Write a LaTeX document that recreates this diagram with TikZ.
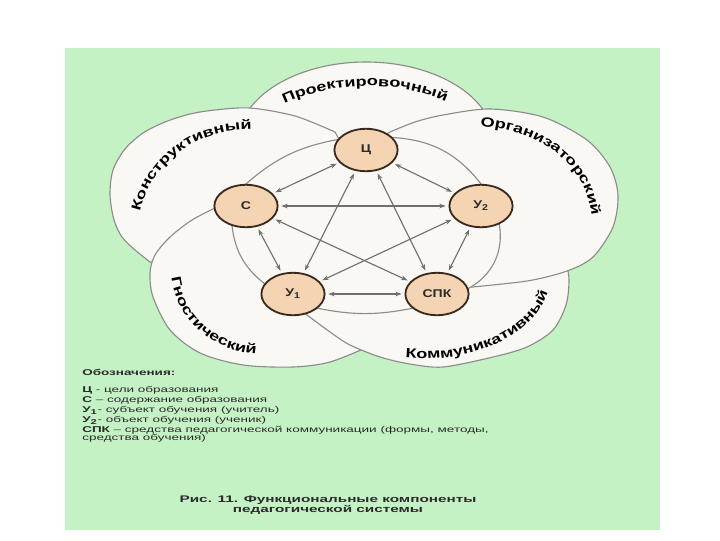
\documentclass[tikz,border=0pt]{standalone}
\usepackage{fontspec}
\setmainfont{Liberation Sans}
\newfontfamily\petalfont[FakeStretch=1.25]{Liberation Sans}
\newfontfamily\ringfont[FakeStretch=1.35]{Liberation Sans}
\newfontfamily\legendfont[FakeStretch=1.6]{Liberation Sans}
\definecolor{Bgcol}{HTML}{C4F2C4}
\definecolor{Petalcol}{HTML}{FAF8F5}
\definecolor{Edgecol}{HTML}{8C8C8C}
\definecolor{Nodecol}{HTML}{F5D4B4}
\definecolor{Rimcol}{HTML}{3A2A1E}
\definecolor{Linkcol}{HTML}{6F6F6F}
\definecolor{Textcol}{HTML}{2A2A2A}
\usetikzlibrary{shapes.geometric, arrows.meta, decorations.text, backgrounds}
\tikzset{
    >={Stealth[length=4.5pt, width=3.2pt]},
    petal/.style={fill=Petalcol, draw=Edgecol, line width=0.8pt},
    comp/.style={ellipse, fill=Nodecol, draw=Rimcol, line width=1.3pt,
        minimum width=1.58cm, minimum height=1.06cm, inner sep=0pt,
        font=\petalfont\bfseries\fontsize{8}{9}\selectfont, text=Textcol},
    link/.style={<->, draw=Linkcol, line width=0.8pt, shorten <=2pt, shorten >=2pt},
    petaltext/.style={decorate, decoration={text along path,
        text={|\ringfont\bfseries\fontsize{9.5}{11}\selectfont|#1},
        text align=center}}
}

\begin{document}
\begin{tikzpicture}[x=0.025cm, y=-0.025cm]
    \useasboundingbox (0,0) rectangle (720,540);

    % Components
    \node[comp] (c) at (366,150) {Ц};
    \node[comp] (s) at (246,206) {С};
    \node[comp] (u2) at (481,206) {У\textsubscript{2}};
    \node[comp] (u1) at (293,294) {У\textsubscript{1}};
    \node[comp] (spk) at (437,294) {СПК};

    \begin{scope}[on background layer]
        % Background
        \fill[white] (0,0) rectangle (720,540);
        \fill[Bgcol] (65,48) rectangle (660,530);

        % Petals
        \filldraw[petal] (366,142) ellipse [x radius=128, y radius=80];
        \filldraw[petal] plot[smooth] coordinates {(150,262) (135,250) (122,237) (114,220) (110,195)
            (113,170) (125,149) (143,133) (165,122) (190,114) (215,110) (250,108) (295,116) (335,132)}
            -- (345,150) -- (300,210) -- (200,250) -- (170,262) -- cycle;
        \filldraw[petal] plot[smooth] coordinates {(217,207) (192,220) (170,237) (155,255) (150,273)
            (153,297) (170,330) (200,353) (243,365) (293,367) (330,362) (370,346)}
            -- (390,320) -- (320,300) -- (262,250) -- (235,210) -- cycle;
        \filldraw[petal] plot[smooth] coordinates {(303,312) (330,332) (350,345) (380,357) (410,364)
            (443,367) (493,357) (527,347) (553,330) (566,305) (569,280) (566,262)}
            -- (540,250) -- (470,260) -- (420,305) -- (330,300) -- cycle;
        \filldraw[petal] plot[smooth] coordinates {(390,132) (415,122) (443,115) (490,109) (543,117)
            (587,140) (610,167) (618,195) (613,227) (593,257) (567,271) (527,281) (462,288)}
            -- (450,282) -- (440,230) -- (385,152) -- (380,138) -- cycle;

        % Inner ring
        \filldraw[petal] (s.north) to[bend left=15] (c.160) -- (c.25) to[bend left=24] (u2.north)
            -- (u2.-45) to[bend left=35] (spk.10) -- (spk.210) to[bend left=11] (u1.-30)
            -- (u1.160) to[bend left=22] (s.235) -- cycle;
    \end{scope}

    % Petal labels
    \path[petaltext=Проектировочный] (266,114) .. controls (320,78) and (412,76) .. (464,112);
    \path[petaltext=Конструктивный] (139,216) .. controls (150,160) and (200,127) .. (256,130);
    \path[petaltext=Организаторский] (476,126) .. controls (540,128) and (588,165) .. (592,220);
    \path[petaltext=Гностический] (171,274) .. controls (175,320) and (212,352) .. (260,354);
    \path[petaltext=Коммуникативный] (392,356) .. controls (460,368) and (542,340) .. (551,279);

    % Links
    \foreach \a/\b in {s/c, c/u2, u2/spk, spk/u1, u1/s, s/u2, s/spk, c/u1, c/spk, u1/u2}
        \draw[link] (\a) -- (\b);

    % Legend
    \node[anchor=north west, inner sep=0pt, align=left, text=Textcol,
        font=\legendfont\fontsize{6}{7.1}\selectfont] (legend) at (82,369)
        {\textbf{Обозначения:}\\[5pt]
         \textbf{Ц} - цели образования\\
         \textbf{С} – содержание образования\\
         \textbf{У\textsubscript{1}}- субъект обучения (учитель)\\
         \textbf{У\textsubscript{2}}- объект обучения (ученик)\\
         \textbf{СПК} – средства педагогической коммуникации (формы, методы,\\[-1.5pt]
         средства обучения)};

    % Caption
    \node[align=center, text=Textcol, inner sep=0pt,
        font=\legendfont\bfseries\fontsize{6.8}{6.6}\selectfont] (caption) at (328,505)
        {Рис. 11. Функциональные компоненты\\педагогической системы};
\end{tikzpicture}
\end{document}
